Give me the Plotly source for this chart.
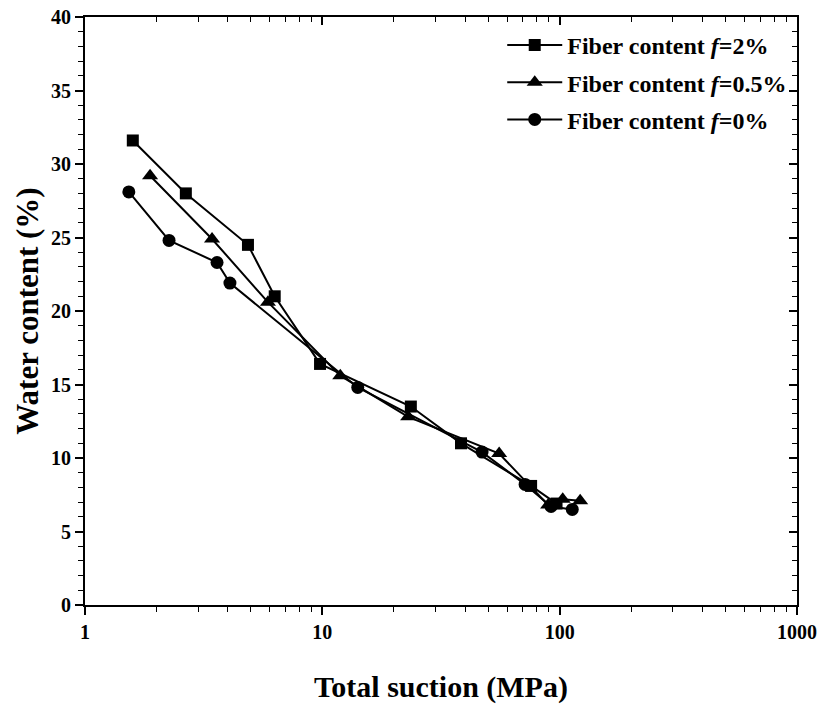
import plotly.graph_objects as go

# Data
suction_f2 = [1.59, 2.66, 4.86, 6.3, 9.78, 23.6, 38.4, 75.8, 97]
water_f2 = [31.6, 28.0, 24.5, 21.0, 16.4, 13.5, 11.0, 8.1, 6.9]

suction_f05 = [1.88, 3.43, 5.9, 11.9, 23.0, 55.6, 89.4, 103, 122]
water_f05 = [29.2, 24.9, 20.6, 15.6, 12.8, 10.3, 6.8, 7.2, 7.1]

suction_f0 = [1.53, 2.26, 3.6, 4.08, 14.1, 47.1, 71.5, 92, 113]
water_f0 = [28.1, 24.8, 23.3, 21.9, 14.8, 10.4, 8.2, 6.7, 6.5]

series_names = ["Fiber content <i>f</i>=2%", "Fiber content <i>f</i>=0.5%", "Fiber content <i>f</i>=0%"]

x_ticks = [1, 10, 100, 1000]
y_ticks = [0, 5, 10, 15, 20, 25, 30, 35, 40]

FONT = "Liberation Serif"

fig = go.Figure()
specs = [
    (suction_f2, water_f2, "square", 12),
    (suction_f05, water_f05, "triangle-up", 14),
    (suction_f0, water_f0, "circle", 13),
]
for i, ((xs, ys, sym, sz), name) in enumerate(zip(specs, series_names)):
    fig.add_trace(go.Scatter(
        x=xs, y=ys, mode="lines+markers", name=name, legendgroup=f"g{i}",
        line=dict(color="black", width=2),
        marker=dict(symbol=sym, size=sz, color="black"),
    ))

# empty trace to activate top/right mirror axes
fig.add_trace(go.Scatter(x=[], y=[], xaxis="x2", yaxis="y2", showlegend=False, hoverinfo="skip"))

axis_font = dict(family=FONT, size=20, color="black", weight="bold")
minor_x = [2, 3, 4, 5, 6, 7, 8, 9, 20, 30, 40, 50, 60, 70, 80, 90,
           200, 300, 400, 500, 600, 700, 800, 900]

fig.update_layout(
    width=821, height=704,
    margin=dict(l=85, r=24, t=17, b=99),
    paper_bgcolor="white", plot_bgcolor="white",
    font=dict(family=FONT, color="black"),
    showlegend=True,
    legend=dict(
        x=0.586, y=0.99, xanchor="left", yanchor="top",
        font=dict(family=FONT, size=24, color="black", weight="bold"),
        bgcolor="rgba(0,0,0,0)", itemwidth=55, tracegroupgap=3,
    ),
    xaxis=dict(
        type="log", range=[0, 3], showgrid=False, zeroline=False, automargin=False,
        showline=True, linecolor="black", linewidth=2,
        ticks="outside", ticklen=8, tickwidth=1.5, tickcolor="black",
        tickvals=x_ticks, ticktext=[str(v) for v in x_ticks],
        tickfont=axis_font, ticklabeloverflow="allow",
        minor=dict(ticks="outside", ticklen=5, tickwidth=1.2, tickcolor="black", tickvals=minor_x),
        title=dict(text="Total suction (MPa)", font=dict(family=FONT, size=30, color="black", weight="bold"), standoff=38),
    ),
    yaxis=dict(
        range=[0, 40], showgrid=False, zeroline=False, automargin=False,
        showline=True, linecolor="black", linewidth=2,
        ticks="outside", ticklen=8, tickwidth=1.5, tickcolor="black",
        tickvals=y_ticks, ticktext=[str(v) for v in y_ticks],
        tickfont=axis_font, ticklabeloverflow="allow",
        minor=dict(ticks="outside", ticklen=5, tickwidth=1.2, tickcolor="black", dtick=1),
        title=dict(text="Water content (%)", font=dict(family=FONT, size=31, color="black", weight="bold"), standoff=3),
    ),
    xaxis2=dict(
        type="log", range=[0, 3], overlaying="x", side="top", anchor="y2", automargin=False,
        showgrid=False, zeroline=False, showline=True, linecolor="black", linewidth=2,
        ticks="inside", ticklen=8, tickwidth=1.5, tickcolor="black",
        tickvals=x_ticks, showticklabels=False,
        minor=dict(ticks="inside", ticklen=5, tickwidth=1.2, tickcolor="black", tickvals=minor_x),
    ),
    yaxis2=dict(
        range=[0, 40], overlaying="y", side="right", anchor="x2", automargin=False,
        showgrid=False, zeroline=False, showline=True, linecolor="black", linewidth=2,
        ticks="inside", ticklen=8, tickwidth=1.5, tickcolor="black",
        tickvals=y_ticks, showticklabels=False,
        minor=dict(ticks="inside", ticklen=5, tickwidth=1.2, tickcolor="black", dtick=1),
    ),
)

fig.write_html(
    "out.html",
    config={"displayModeBar": False},
    post_script="document.body.style.margin='0';document.body.style.overflow='hidden';",
)
